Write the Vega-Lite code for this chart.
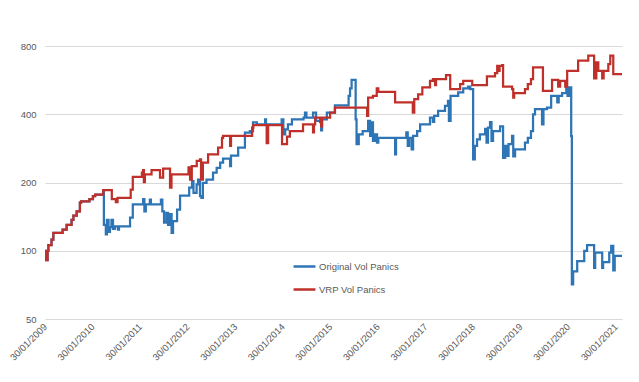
{
  "$schema": "https://vega.github.io/schema/vega-lite/v6.json",
  "width": 577,
  "height": 273,
  "autosize": "none",
  "padding": {"left": 45, "top": 46, "right": 17, "bottom": 63},
  "background": "white",
  "config": {
    "view": {"stroke": null},
    "font": "Liberation Sans",
    "axis": {"labelColor": "#595959", "labelFontSize": 9.5, "labelFont": "Liberation Sans", "domain": false, "ticks": false, "gridColor": "#d9d9d9", "gridWidth": 1}
  },
  "datasets": {
    "orig": [
      {"date": "2009-01-30", "value": 100}, {"date": "2009-02-08", "value": 91}, {"date": "2009-02-19", "value": 100},
      {"date": "2009-02-25", "value": 106}, {"date": "2009-03-21", "value": 112}, {"date": "2009-04-04", "value": 120},
      {"date": "2009-06-14", "value": 124}, {"date": "2009-07-15", "value": 130}, {"date": "2009-08-22", "value": 137},
      {"date": "2009-09-05", "value": 143}, {"date": "2009-09-30", "value": 149}, {"date": "2009-10-25", "value": 163},
      {"date": "2009-11-03", "value": 165}, {"date": "2010-01-06", "value": 169}, {"date": "2010-02-02", "value": 174},
      {"date": "2010-02-19", "value": 177}, {"date": "2010-04-22", "value": 185},
      {"date": "2010-04-27", "value": 130}, {"date": "2010-05-12", "value": 118}, {"date": "2010-05-20", "value": 137},
      {"date": "2010-06-02", "value": 121}, {"date": "2010-06-13", "value": 127}, {"date": "2010-06-24", "value": 137},
      {"date": "2010-07-06", "value": 125}, {"date": "2010-07-20", "value": 128}, {"date": "2010-08-13", "value": 124},
      {"date": "2010-08-21", "value": 128}, {"date": "2010-11-14", "value": 140}, {"date": "2010-12-05", "value": 160},
      {"date": "2011-02-22", "value": 169}, {"date": "2011-03-04", "value": 149}, {"date": "2011-03-15", "value": 160},
      {"date": "2011-04-15", "value": 168}, {"date": "2011-04-23", "value": 160}, {"date": "2011-07-09", "value": 168},
      {"date": "2011-07-20", "value": 149}, {"date": "2011-08-02", "value": 133}, {"date": "2011-08-20", "value": 147},
      {"date": "2011-09-02", "value": 130}, {"date": "2011-09-17", "value": 145}, {"date": "2011-09-29", "value": 120},
      {"date": "2011-10-10", "value": 135}, {"date": "2011-11-10", "value": 152}, {"date": "2011-12-03", "value": 175},
      {"date": "2012-02-11", "value": 190}, {"date": "2012-03-04", "value": 203}, {"date": "2012-03-15", "value": 180},
      {"date": "2012-04-08", "value": 196}, {"date": "2012-04-19", "value": 206}, {"date": "2012-05-04", "value": 174},
      {"date": "2012-05-15", "value": 171}, {"date": "2012-05-26", "value": 199}, {"date": "2012-06-23", "value": 206},
      {"date": "2012-08-12", "value": 221}, {"date": "2012-09-09", "value": 232}, {"date": "2012-10-06", "value": 245},
      {"date": "2012-10-28", "value": 255}, {"date": "2012-12-21", "value": 236}, {"date": "2012-12-28", "value": 263},
      {"date": "2013-02-21", "value": 285}, {"date": "2013-04-14", "value": 332}, {"date": "2013-05-22", "value": 337},
      {"date": "2013-06-15", "value": 368}, {"date": "2013-07-15", "value": 361}, {"date": "2013-09-16", "value": 380},
      {"date": "2013-09-23", "value": 361}, {"date": "2014-01-21", "value": 380}, {"date": "2014-02-03", "value": 326},
      {"date": "2014-02-17", "value": 343}, {"date": "2014-03-10", "value": 361}, {"date": "2014-04-10", "value": 380},
      {"date": "2014-07-08", "value": 387}, {"date": "2014-07-19", "value": 407}, {"date": "2014-07-30", "value": 387},
      {"date": "2014-09-19", "value": 407}, {"date": "2014-10-12", "value": 374}, {"date": "2014-11-12", "value": 370},
      {"date": "2014-11-20", "value": 340}, {"date": "2014-11-27", "value": 380}, {"date": "2015-01-03", "value": 407},
      {"date": "2015-03-06", "value": 438}, {"date": "2015-06-19", "value": 482}, {"date": "2015-06-30", "value": 520},
      {"date": "2015-07-12", "value": 567}, {"date": "2015-08-12", "value": 380}, {"date": "2015-08-19", "value": 295},
      {"date": "2015-09-05", "value": 326}, {"date": "2015-10-05", "value": 337}, {"date": "2015-11-16", "value": 374},
      {"date": "2015-12-01", "value": 321}, {"date": "2015-12-12", "value": 368}, {"date": "2015-12-23", "value": 305},
      {"date": "2016-01-09", "value": 326}, {"date": "2016-01-23", "value": 300}, {"date": "2016-02-02", "value": 315},
      {"date": "2016-06-10", "value": 266}, {"date": "2016-06-17", "value": 315}, {"date": "2016-09-04", "value": 333},
      {"date": "2016-09-15", "value": 290}, {"date": "2016-09-26", "value": 315}, {"date": "2016-10-15", "value": 280},
      {"date": "2016-10-26", "value": 321}, {"date": "2016-11-26", "value": 337}, {"date": "2016-12-19", "value": 361},
      {"date": "2017-03-05", "value": 387}, {"date": "2017-03-27", "value": 370}, {"date": "2017-04-06", "value": 393},
      {"date": "2017-05-06", "value": 414}, {"date": "2017-06-28", "value": 435}, {"date": "2017-07-21", "value": 458},
      {"date": "2017-07-28", "value": 374}, {"date": "2017-08-10", "value": 482}, {"date": "2017-10-07", "value": 499},
      {"date": "2017-11-15", "value": 520}, {"date": "2017-12-22", "value": 530}, {"date": "2018-01-08", "value": 516},
      {"date": "2018-01-30", "value": 253}, {"date": "2018-02-12", "value": 290}, {"date": "2018-03-01", "value": 310},
      {"date": "2018-03-23", "value": 326}, {"date": "2018-05-02", "value": 345}, {"date": "2018-05-13", "value": 300},
      {"date": "2018-05-24", "value": 349}, {"date": "2018-06-09", "value": 369}, {"date": "2018-06-20", "value": 305},
      {"date": "2018-07-02", "value": 337}, {"date": "2018-08-25", "value": 354}, {"date": "2018-09-17", "value": 257},
      {"date": "2018-10-03", "value": 290}, {"date": "2018-10-14", "value": 262}, {"date": "2018-10-29", "value": 295},
      {"date": "2018-11-25", "value": 321}, {"date": "2018-12-04", "value": 261}, {"date": "2018-12-18", "value": 280},
      {"date": "2019-03-04", "value": 300}, {"date": "2019-03-26", "value": 315}, {"date": "2019-04-19", "value": 337},
      {"date": "2019-05-05", "value": 400}, {"date": "2019-05-20", "value": 421}, {"date": "2019-07-13", "value": 361},
      {"date": "2019-07-24", "value": 421}, {"date": "2019-08-20", "value": 428}, {"date": "2019-09-21", "value": 482},
      {"date": "2019-11-07", "value": 451}, {"date": "2019-11-18", "value": 482}, {"date": "2019-12-14", "value": 496},
      {"date": "2020-01-15", "value": 525}, {"date": "2020-01-25", "value": 482}, {"date": "2020-02-07", "value": 525},
      {"date": "2020-02-22", "value": 320}, {"date": "2020-02-27", "value": 71}, {"date": "2020-03-08", "value": 81},
      {"date": "2020-04-08", "value": 90}, {"date": "2020-06-01", "value": 100}, {"date": "2020-06-23", "value": 106},
      {"date": "2020-08-16", "value": 84}, {"date": "2020-08-24", "value": 98}, {"date": "2020-10-17", "value": 84},
      {"date": "2020-10-24", "value": 89}, {"date": "2020-12-10", "value": 98}, {"date": "2020-12-25", "value": 105},
      {"date": "2021-01-10", "value": 82}, {"date": "2021-01-21", "value": 95}, {"date": "2021-03-18", "value": 95}
    ],
    "vrp": [
      {"date": "2009-01-30", "value": 100}, {"date": "2009-02-08", "value": 91}, {"date": "2009-02-19", "value": 100},
      {"date": "2009-02-25", "value": 106}, {"date": "2009-03-21", "value": 112}, {"date": "2009-04-04", "value": 120},
      {"date": "2009-06-14", "value": 124}, {"date": "2009-07-15", "value": 130}, {"date": "2009-08-22", "value": 137},
      {"date": "2009-09-05", "value": 143}, {"date": "2009-09-30", "value": 149}, {"date": "2009-10-25", "value": 163},
      {"date": "2009-11-03", "value": 165}, {"date": "2010-01-06", "value": 169}, {"date": "2010-02-02", "value": 174},
      {"date": "2010-02-19", "value": 177}, {"date": "2010-04-22", "value": 185}, {"date": "2010-06-27", "value": 169},
      {"date": "2010-07-28", "value": 164}, {"date": "2010-08-10", "value": 171}, {"date": "2010-11-19", "value": 186},
      {"date": "2010-12-05", "value": 212}, {"date": "2011-02-13", "value": 221}, {"date": "2011-02-22", "value": 227},
      {"date": "2011-02-28", "value": 201}, {"date": "2011-03-08", "value": 217}, {"date": "2011-04-28", "value": 227},
      {"date": "2011-07-02", "value": 210}, {"date": "2011-07-26", "value": 230}, {"date": "2011-09-17", "value": 190},
      {"date": "2011-09-28", "value": 217}, {"date": "2012-02-06", "value": 233}, {"date": "2012-02-18", "value": 206},
      {"date": "2012-03-02", "value": 236}, {"date": "2012-04-09", "value": 249}, {"date": "2012-05-04", "value": 253},
      {"date": "2012-05-12", "value": 206}, {"date": "2012-05-26", "value": 245}, {"date": "2012-07-05", "value": 266},
      {"date": "2012-09-20", "value": 285}, {"date": "2012-10-20", "value": 315}, {"date": "2012-10-28", "value": 321},
      {"date": "2012-12-21", "value": 290}, {"date": "2012-12-28", "value": 321}, {"date": "2013-06-08", "value": 349},
      {"date": "2013-06-17", "value": 358}, {"date": "2013-09-28", "value": 298}, {"date": "2013-10-09", "value": 358},
      {"date": "2014-01-24", "value": 295}, {"date": "2014-03-03", "value": 319}, {"date": "2014-03-25", "value": 337},
      {"date": "2014-07-04", "value": 361}, {"date": "2014-09-19", "value": 333}, {"date": "2014-09-26", "value": 361},
      {"date": "2014-10-05", "value": 387}, {"date": "2014-11-12", "value": 369}, {"date": "2014-11-20", "value": 354},
      {"date": "2014-11-27", "value": 387}, {"date": "2015-01-28", "value": 407}, {"date": "2015-03-06", "value": 428},
      {"date": "2015-11-08", "value": 393}, {"date": "2015-11-16", "value": 474}, {"date": "2015-12-23", "value": 482},
      {"date": "2016-01-21", "value": 520}, {"date": "2016-02-02", "value": 502}, {"date": "2016-06-10", "value": 451},
      {"date": "2016-10-24", "value": 407}, {"date": "2016-11-04", "value": 466}, {"date": "2016-12-04", "value": 490},
      {"date": "2017-01-05", "value": 525}, {"date": "2017-03-05", "value": 562}, {"date": "2017-03-27", "value": 572},
      {"date": "2017-04-13", "value": 538}, {"date": "2017-04-20", "value": 572}, {"date": "2017-07-06", "value": 595},
      {"date": "2017-08-07", "value": 516}, {"date": "2017-10-22", "value": 543}, {"date": "2017-11-15", "value": 562},
      {"date": "2018-01-23", "value": 538}, {"date": "2018-05-16", "value": 587}, {"date": "2018-07-17", "value": 607},
      {"date": "2018-08-03", "value": 654}, {"date": "2018-08-14", "value": 622}, {"date": "2018-08-21", "value": 654},
      {"date": "2018-09-10", "value": 659}, {"date": "2018-09-17", "value": 530}, {"date": "2018-11-25", "value": 516},
      {"date": "2018-12-04", "value": 474}, {"date": "2018-12-11", "value": 496}, {"date": "2019-03-04", "value": 516},
      {"date": "2019-03-26", "value": 543}, {"date": "2019-04-19", "value": 572}, {"date": "2019-05-05", "value": 644},
      {"date": "2019-07-20", "value": 507}, {"date": "2019-09-28", "value": 567}, {"date": "2019-11-14", "value": 530},
      {"date": "2019-11-29", "value": 562}, {"date": "2020-01-07", "value": 530}, {"date": "2020-01-22", "value": 622},
      {"date": "2020-04-15", "value": 689}, {"date": "2020-07-02", "value": 725}, {"date": "2020-08-16", "value": 576},
      {"date": "2020-09-02", "value": 678}, {"date": "2020-09-17", "value": 622}, {"date": "2020-10-17", "value": 576},
      {"date": "2020-10-28", "value": 622}, {"date": "2020-12-03", "value": 666}, {"date": "2020-12-18", "value": 725},
      {"date": "2021-01-10", "value": 601}, {"date": "2021-03-18", "value": 601}
    ]
  },
  "data": {"name": "orig"},
  "transform": [
    {"calculate": "'Original Vol Panics'", "as": "series"}
  ],
  "layer": [
    {
      "mark": {"type": "line", "interpolate": "step-after", "strokeWidth": 2.25},
      "encoding": {
        "x": {
          "field": "date", "type": "temporal",
          "scale": {"type": "utc", "domain": [{"year": 2009, "month": 1, "date": 30, "utc": true}, {"year": 2021, "month": 3, "date": 18, "utc": true}]},
          "axis": {
            "title": null, "grid": false, "labelAngle": -45, "labelAlign": "right", "labelBaseline": "middle", "labelPadding": 6,
            "labelExpr": "utcFormat(datum.value, '%d/%m/%Y')",
            "values": [
              {"year": 2009, "month": 1, "date": 30, "utc": true}, {"year": 2010, "month": 1, "date": 30, "utc": true},
              {"year": 2011, "month": 1, "date": 30, "utc": true}, {"year": 2012, "month": 1, "date": 30, "utc": true},
              {"year": 2013, "month": 1, "date": 30, "utc": true}, {"year": 2014, "month": 1, "date": 30, "utc": true},
              {"year": 2015, "month": 1, "date": 30, "utc": true}, {"year": 2016, "month": 1, "date": 30, "utc": true},
              {"year": 2017, "month": 1, "date": 30, "utc": true}, {"year": 2018, "month": 1, "date": 30, "utc": true},
              {"year": 2019, "month": 1, "date": 30, "utc": true}, {"year": 2020, "month": 1, "date": 30, "utc": true},
              {"year": 2021, "month": 1, "date": 30, "utc": true}
            ]
          }
        },
        "y": {
          "field": "value", "type": "quantitative",
          "scale": {"type": "log", "domain": [50, 800], "nice": false},
          "axis": {"title": null, "values": [50, 100, 200, 400, 800], "labelPadding": 9, "grid": true}
        },
        "stroke": {
          "field": "series", "type": "nominal",
          "scale": {"domain": ["Original Vol Panics", "VRP Vol Panics"], "range": ["#2E75B6", "#C0302B"]},
          "legend": {
            "title": null, "orient": "none", "legendX": 247, "legendY": 208,
            "symbolType": "stroke", "symbolSize": 480, "symbolStrokeWidth": 2.5,
            "labelFontSize": 9.5, "labelColor": "#595959", "labelOffset": 2, "rowPadding": 5
          }
        }
      }
    },
    {
      "data": {"name": "vrp"},
      "transform": [{"calculate": "'VRP Vol Panics'", "as": "series"}],
      "mark": {"type": "line", "interpolate": "step-after", "strokeWidth": 2.25},
      "encoding": {
        "x": {"field": "date", "type": "temporal"},
        "y": {"field": "value", "type": "quantitative"},
        "stroke": {"field": "series", "type": "nominal"}
      }
    }
  ]
}
